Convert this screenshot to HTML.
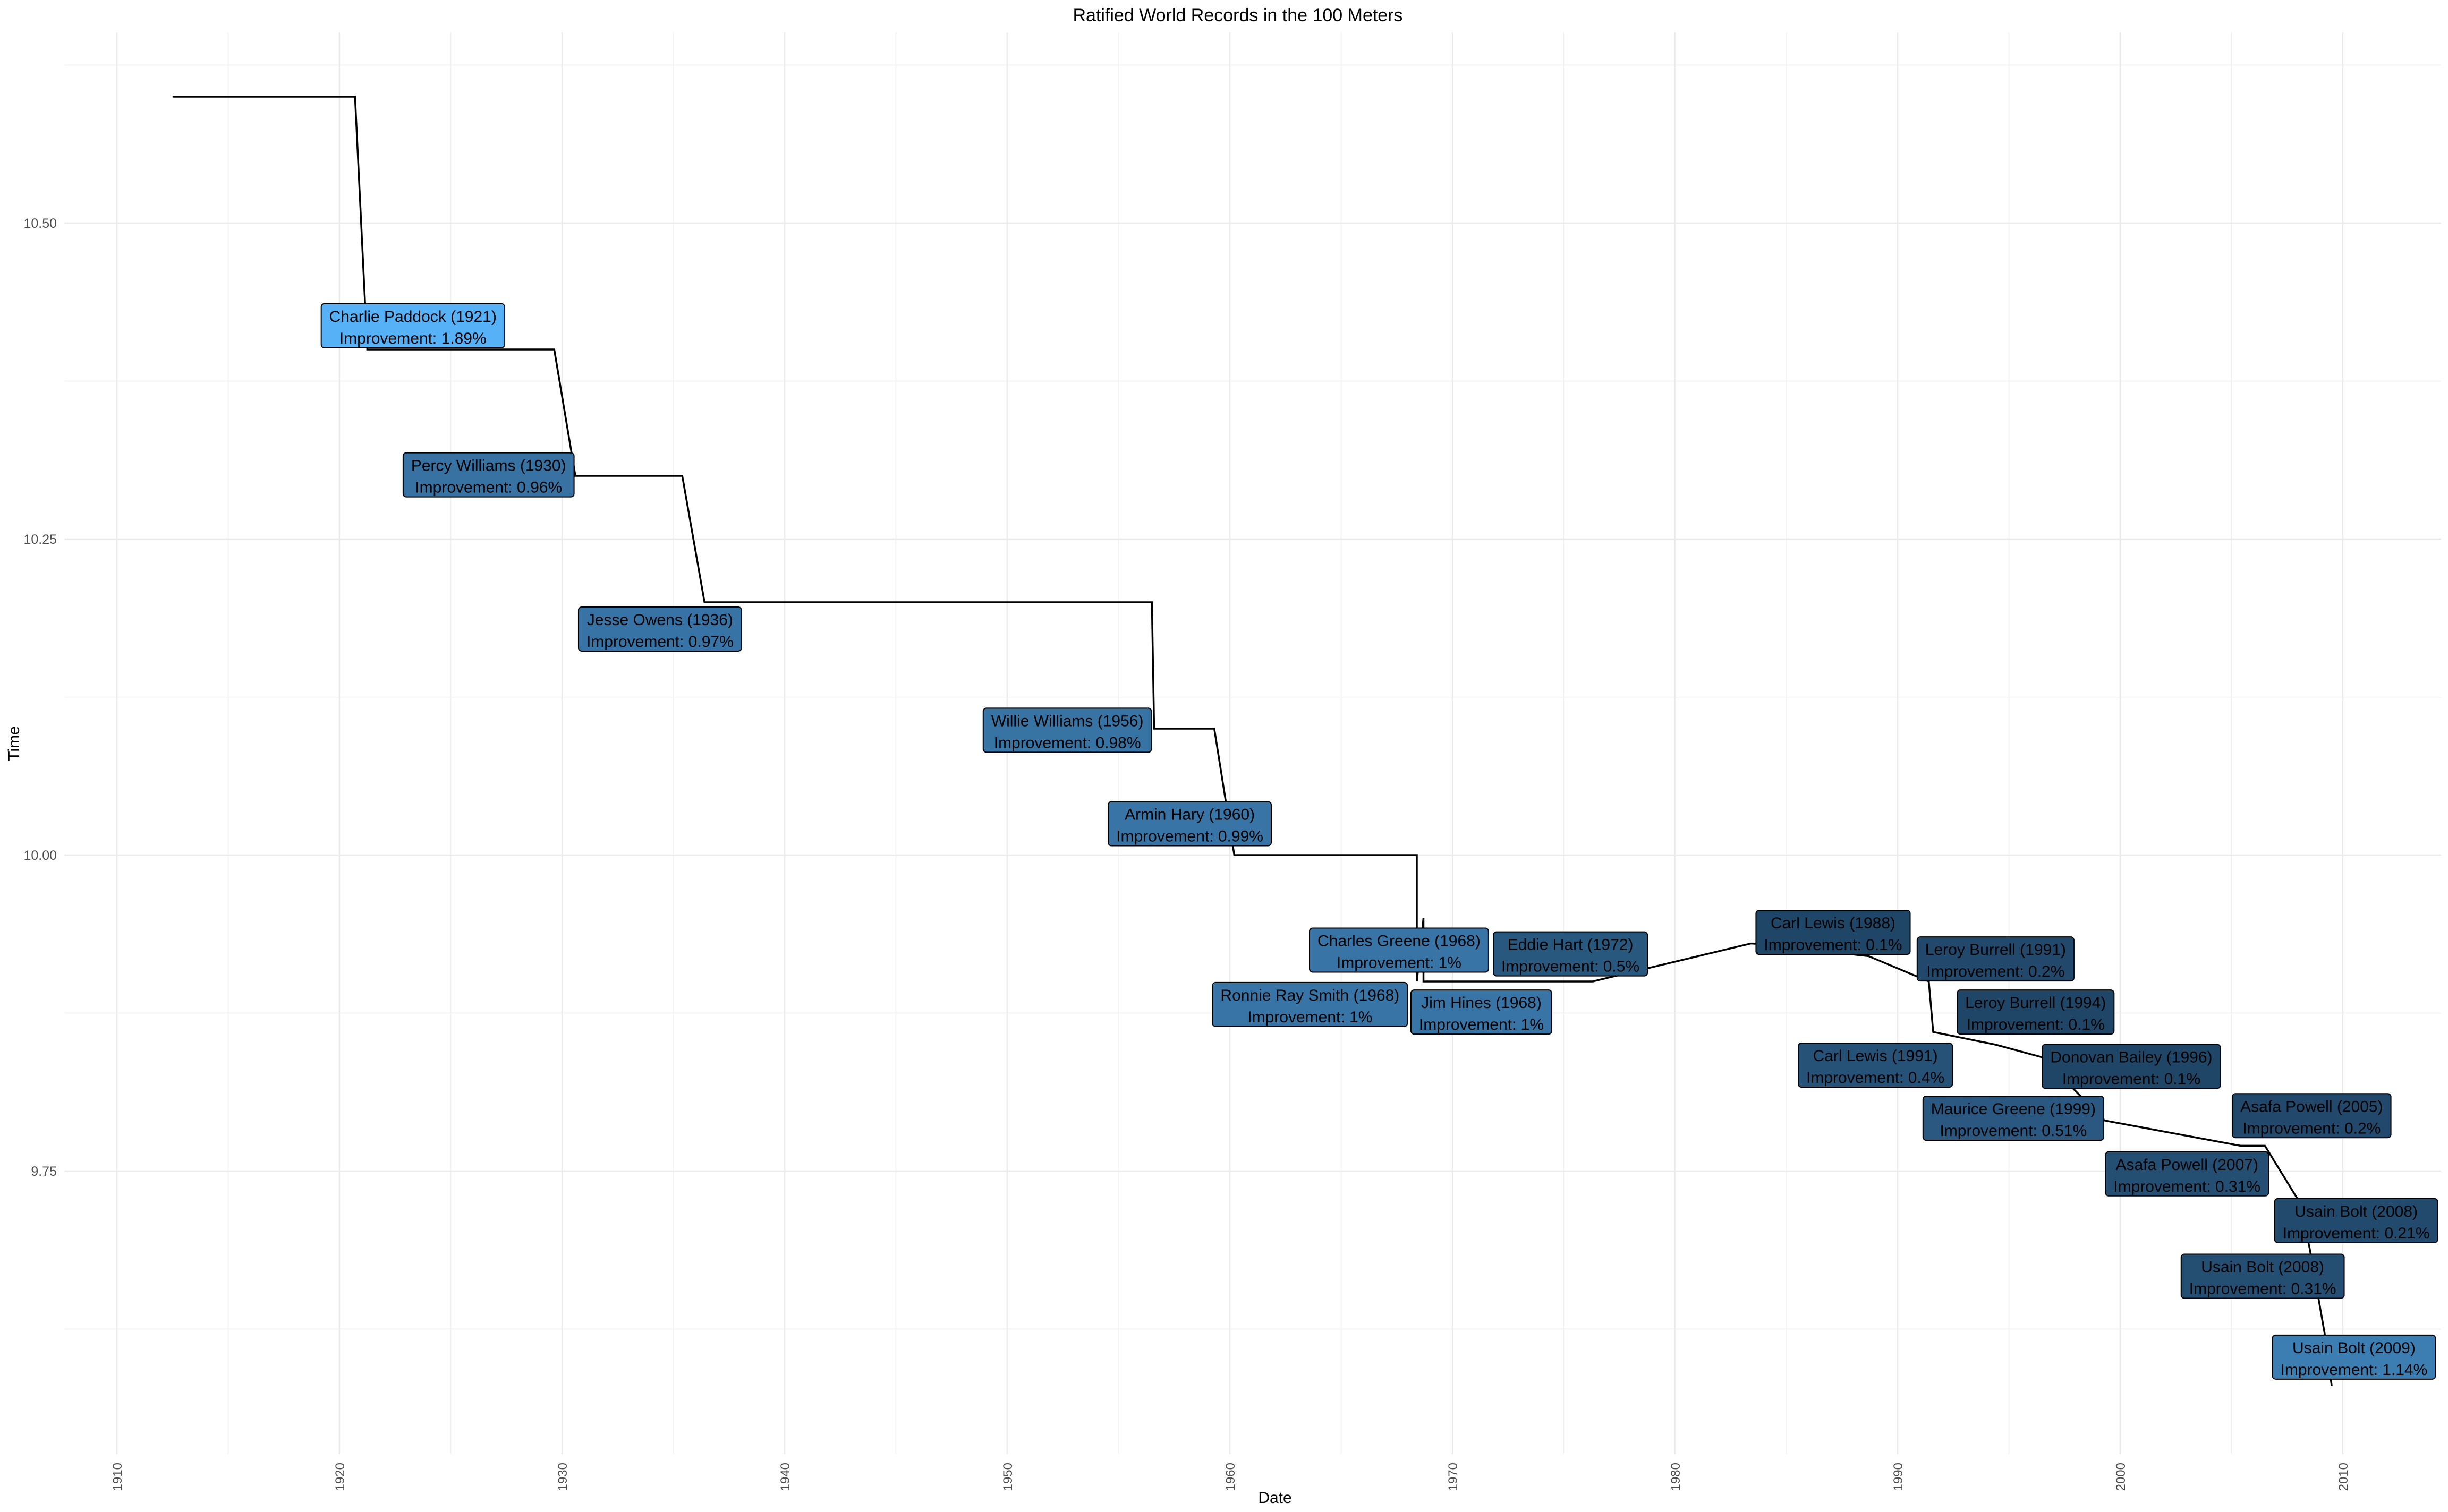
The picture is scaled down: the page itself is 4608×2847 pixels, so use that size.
<!DOCTYPE html>
<html><head><meta charset="utf-8"><style>
html,body{margin:0;padding:0;background:#fff;}
svg{display:block;font-family:"Liberation Sans",Arial,sans-serif;}
</style></head><body>
<svg id="chart" width="4608" height="2847" viewBox="0 0 4608 2847" xmlns="http://www.w3.org/2000/svg">
<rect width="4608" height="2847" fill="#fff"/>
<text x="2330" y="40" font-size="34" text-anchor="middle" fill="#000">Ratified World Records in the 100 Meters</text>
<text x="2400" y="2830" font-size="30" text-anchor="middle" fill="#000">Date</text>
<text transform="translate(36,1400) rotate(-90)" font-size="30" text-anchor="middle" fill="#000">Time</text>
<g id="grid"></g><g id="axes"></g><g id="series"></g><g id="labels"></g>
</svg>
<script>
// ---- data ----
const xTicks = [1910,1920,1930,1940,1950,1960,1970,1980,1990,2000,2010];
const xMinor = [1915,1925,1935,1945,1955,1965,1975,1985,1995,2005];
const yTicks = [10.5,10.25,10.0,9.75];
const yTickLabels = ["10.50","10.25","10.00","9.75"];
const yMinor = [10.625,10.375,10.125,9.875,9.625];
// record path (decimal year, time)
const pathYears = [1912.5,1920.7,1921.25,1929.65,1930.6,1935.4,1936.4,1956.5,1956.6,1959.3,1960.2,1968.4,1968.4,1968.7,1968.7,1976.3,1983.4,1983.5,1988.7,1991.4,1991.6,1994.4,1996.5,1999.3,2005.4,2006.5,2008.0,2008.5,2009.2,2009.5];
const pathTimes = [10.6,10.6,10.4,10.4,10.3,10.3,10.2,10.2,10.1,10.1,10.0,10.0,9.9,9.95,9.9,9.9,9.93,9.93,9.92,9.90,9.86,9.85,9.84,9.79,9.77,9.77,9.727,9.69,9.62,9.58];
// labels
const labelNames = ["Charlie Paddock (1921)","Percy Williams (1930)","Jesse Owens (1936)","Willie Williams (1956)","Armin Hary (1960)","Charles Greene (1968)","Ronnie Ray Smith (1968)","Jim Hines (1968)","Eddie Hart (1972)","Carl Lewis (1988)","Leroy Burrell (1991)","Leroy Burrell (1994)","Carl Lewis (1991)","Donovan Bailey (1996)","Maurice Greene (1999)","Asafa Powell (2005)","Asafa Powell (2007)","Usain Bolt (2008)","Usain Bolt (2008)","Usain Bolt (2009)"];
const labelImprovements = [1.89,0.96,0.97,0.98,0.99,1,1,1,0.5,0.1,0.2,0.1,0.4,0.1,0.51,0.2,0.31,0.21,0.31,1.14];
const labelYears = [1923.3,1926.7,1934.4,1952.7,1958.2,1967.6,1963.6,1971.3,1975.3,1987.1,1994.4,1996.2,1989.0,2000.5,1995.2,2008.6,2003.0,2010.6,2006.4,2010.5];
const labelTimes = [10.419,10.301,10.179,10.099,10.025,9.925,9.882,9.876,9.922,9.939,9.918,9.876,9.834,9.833,9.792,9.794,9.748,9.711,9.667,9.603];

// ---- scales ----
const X0=220, PX_PER_YEAR=41.9, Y0=420, PX_PER_SEC=2380;
const PL=121, PR=4595, PT=61, PB=2738;
const xs = y => X0 + (y-1910)*PX_PER_YEAR;
const ys = t => Y0 + (10.5-t)*PX_PER_SEC;
const NS="http://www.w3.org/2000/svg";
function mk(tag, attrs, parent){const e=document.createElementNS(NS,tag);for(const k in attrs)e.setAttribute(k,attrs[k]);parent.appendChild(e);return e;}

const grid=document.getElementById('grid'), axes=document.getElementById('axes');
xMinor.forEach(v=>{const l=mk('line',{x1:xs(v),x2:xs(v),y1:PT,y2:PB,stroke:'#f0f0f0','stroke-width':1.5},grid);

});
yMinor.forEach(v=>{const l=mk('line',{x1:PL,x2:PR,y1:ys(v),y2:ys(v),stroke:'#f0f0f0','stroke-width':1.5},grid);

});
xTicks.forEach(v=>{const l=mk('line',{x1:xs(v),x2:xs(v),y1:PT,y2:PB,stroke:'#ebebeb','stroke-width':2.5},grid);


const t=mk('text',{transform:`translate(${xs(v)+9},2754) rotate(-90)`,'font-size':24,'text-anchor':'end',fill:'#4d4d4d'},axes);
t.textContent=v;

});
yTicks.forEach((v,i)=>{const l=mk('line',{x1:PL,x2:PR,y1:ys(v),y2:ys(v),stroke:'#ebebeb','stroke-width':2.5},grid);


const t=mk('text',{x:107,y:ys(v)+9,'font-size':25,'text-anchor':'end',fill:'#4d4d4d'},axes);
t.textContent=yTickLabels[i];

});

// ---- series ----
const pts=pathYears.map((y,i)=>xs(y).toFixed(1)+','+ys(pathTimes[i]).toFixed(1)).join(' ');
const pl=mk('polyline',{points:pts,fill:'none',stroke:'#000','stroke-width':3.5,'stroke-linejoin':'miter'},document.getElementById('series'));



// ---- labels ----
const lo=[0x13,0x2B,0x43], hi=[0x56,0xB1,0xF7];
const mn=Math.min(...labelImprovements), mx=Math.max(...labelImprovements);
function col(v){const f=0.2+0.8*Math.pow((v-mn)/(mx-mn),1.2);return 'rgb('+lo.map((c,i)=>Math.round(c+(hi[i]-c)*f)).join(',')+')';}
const lg=document.getElementById('labels');
labelNames.forEach((n,i)=>{
  const cx=xs(labelYears[i]), cy=ys(labelTimes[i]);
  const g=mk('g',{},lg);
  
  
  const r=mk('rect',{x:cx-150,y:cy-41,width:300,height:83,rx:6,fill:col(labelImprovements[i]),stroke:'#000','stroke-width':2},g);
  const t1=mk('text',{x:cx,y:cy-7,'font-size':30,'text-anchor':'middle',fill:'#000'},g);t1.textContent=n;
  const t2=mk('text',{x:cx,y:cy+34,'font-size':30,'text-anchor':'middle',fill:'#000'},g);t2.textContent='Improvement: '+labelImprovements[i]+'%';
  const w=Math.max(t1.getComputedTextLength(),t2.getComputedTextLength())+30;
  r.setAttribute('x',cx-w/2);r.setAttribute('width',w);
});
</script>
</body></html>
